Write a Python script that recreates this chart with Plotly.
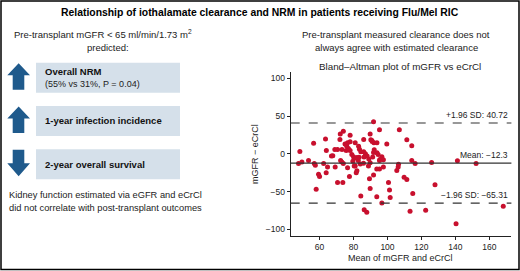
import plotly.graph_objects as go

W, H = 520, 271

# ---------------- data ----------------
mean_x = [47.6, 49.6, 48.4, 53.5, 56.5, 56.9, 57.5, 58.0, 59.4, 60.0,
          62.4, 63.5, 64.0, 63.9, 64.7, 67.0, 67.8, 69.0, 70.6, 69.2,
          70.6, 72.0, 72.2, 74.0, 73.2, 72.4, 73.1, 73.7, 74.0, 75.0,
          76.0, 76.5, 77.0, 75.7, 76.5, 77.6, 78.0, 78.0, 78.0, 79.0,
          80.0, 79.6, 80.4, 81.0, 80.5, 81.6, 82.0, 83.0, 83.5, 84.3,
          84.0, 82.8, 84.3, 85.9, 86.0, 86.0, 87.0, 86.3, 87.8, 88.0,
          88.8, 89.0, 89.8, 89.4, 89.8, 89.8, 90.8, 92.0, 93.8, 91.8,
          91.8, 93.7, 93.7, 95.3, 95.3, 93.8, 94.5, 95.5, 96.7, 96.7,
          97.6, 97.6, 99.6, 100.6, 101.2, 101.6, 105.5, 106.3, 106.5, 107.0,
          109.8, 111.4, 111.4, 113.3, 114.3, 114.3, 114.9, 116.3, 122.5, 126.0,
          128.0, 140.4, 141.2, 152.2, 168.2, 82.0, 83.3, 86.2, 91.3, 91.8,
          92.2, 95.3, 91.0, 90.2, 81.0]
diff_y = [-13.0, -11.0, 3.0, -9.0, 14.0, -13.0, -15.0, -47.0, -27.0, -30.0,
          -13.0, 19.7, 4.3, -25.0, -17.6, -3.0, -2.5, 5.7, 5.7, -17.6,
          -38.0, 19.0, 26.3, 30.0, 5.7, -9.0, -11.0, -38.0, -13.0, 13.0,
          10.0, 14.5, 7.0, 4.4, -18.6, -30.0, 15.8, 24.6, 4.3, -1.0,
          -4.0, -10.0, -16.2, 14.5, -6.0, -25.0, -22.5, 10.0, 6.0, 2.6,
          -13.5, -9.0, -56.0, -12.6, 18.8, 2.6, 0.0, -74.0, -77.5, -3.0,
          -16.2, -7.0, -11.8, -33.0, -46.0, 26.3, 17.5, 14.5, 14.5, 42.5,
          -28.0, -56.8, -20.0, -20.0, 32.0, 1.3, -1.0, -7.5, -4.0, -65.0,
          -17.6, -8.0, 13.0, -38.0, -48.0, -58.0, -22.0, -17.6, -14.0, 32.0,
          -31.0, -34.0, 18.6, -76.0, 10.6, -9.0, -52.7, -13.0, -74.8, -11.5,
          -41.0, -92.8, -9.3, -13.0, -69.4, -5.0, -4.5, -4.4, -4.4, 1.8,
          5.3, -8.8, 16.4, 18.6, -16.0]
mean_diff = -12.3
upper_loa = 40.72
lower_loa = -65.31
x_ticks = [60, 80, 100, 120, 140, 160]
y_ticks = [100, 50, 0, -50, -100]
y_tick_labels = ["100", "50", "0", "\u221250", "\u2212100"]

loa_labels = ["+1.96 SD: 40.72", "Mean: \u221212.3", "\u22121.96 SD: \u221265.31"]
outcome_titles = ["Overall NRM", "1-year infection incidence", "2-year overall survival"]
outcome_detail = "(55% vs 31%, P = 0.04)"
outcome_direction = ["up", "up", "down"]

# ---------------- helpers ----------------
def px(x):
    return x / W


def py(y):
    return 1 - y / H


SANS = "Liberation Sans, Arial, Helvetica, sans-serif"
NARROW = "Liberation Sans Narrow, Arial Narrow, Liberation Sans, sans-serif"
BOX_COL = "#d5e0ea"
ARROW_COL = "#1f5a8c"
PT_COL = "#c8102e"

fig = go.Figure()
fig.add_trace(go.Scatter(
    x=mean_x, y=diff_y, mode="markers",
    marker=dict(color=PT_COL, size=5, line=dict(width=0)),
    hoverinfo="skip", showlegend=False))

shapes = []
annotations = []

# outer border
shapes.append(dict(type="rect", xref="paper", yref="paper",
                   x0=px(1), x1=px(519), y0=py(269.5), y1=py(1),
                   line=dict(color="black", width=1.5), fillcolor="rgba(0,0,0,0)"))

# boxes + arrows
box_tops = [62.7, 106, 149.3]
for i, top in enumerate(box_tops):
    bot = top + 30
    shapes.append(dict(type="rect", xref="paper", yref="paper",
                       x0=px(36), x1=px(180), y0=py(bot), y1=py(top),
                       line=dict(width=0), fillcolor=BOX_COL, layer="below"))
    a0, a1 = top + 0.5, bot - 3
    hl, hr, sl, sr, cx = 7.3, 30, 12.7, 24.3, 18.65
    if outcome_direction[i] == "up":
        hb = a0 + 12
        pts = [(hl, hb), (cx, a0), (hr, hb), (sr, hb), (sr, a1), (sl, a1), (sl, hb)]
    else:
        hb = a1 - 13
        pts = [(sl, a0), (sr, a0), (sr, hb), (hr, hb), (cx, a1), (hl, hb), (sl, hb)]
    path = "M " + " L ".join(f"{px(x):.5f},{py(y):.5f}" for x, y in pts) + " Z"
    shapes.append(dict(type="path", xref="paper", yref="paper", path=path,
                       fillcolor=ARROW_COL, line=dict(width=0)))

# box texts
annotations.append(dict(text="<b>" + outcome_titles[0] + "</b>", x=px(42.5), y=py(71),
                        xanchor="left", yanchor="middle", font=dict(size=9.5, family=SANS, color="#111")))
annotations.append(dict(text=outcome_detail, x=px(42.5), y=py(84),
                        xanchor="left", yanchor="middle", font=dict(size=9, family=SANS, color="#222")))
annotations.append(dict(text="<b>" + outcome_titles[1] + "</b>", x=px(42.5), y=py(121),
                        xanchor="left", yanchor="middle", font=dict(size=9.5, family=SANS, color="#111")))
annotations.append(dict(text="<b>" + outcome_titles[2] + "</b>", x=px(42.5), y=py(164),
                        xanchor="left", yanchor="middle", font=dict(size=9.5, family=SANS, color="#111")))

# headings
annotations.append(dict(text="<b>Relationship of iothalamate clearance and NRM in patients receiving Flu/Mel RIC</b>",
                        x=px(260), y=py(12.5), xanchor="center", yanchor="middle",
                        font=dict(size=10.4, family=SANS, color="#000")))
annotations.append(dict(text="Pre-transplant mGFR < 65 ml/min/1.73 m<sup>2</sup>",
                        x=px(103), y=py(34.5), xanchor="center", yanchor="middle",
                        font=dict(size=9.5, family=SANS, color="#222")))
annotations.append(dict(text="predicted:", x=px(108), y=py(47.5), xanchor="center", yanchor="middle",
                        font=dict(size=9.5, family=SANS, color="#222")))
annotations.append(dict(text="Pre-transplant measured clearance does not", x=px(396), y=py(34.5),
                        xanchor="center", yanchor="middle", font=dict(size=9.5, family=SANS, color="#222")))
annotations.append(dict(text="always agree with estimated clearance", x=px(396), y=py(47.5),
                        xanchor="center", yanchor="middle", font=dict(size=9.5, family=SANS, color="#222")))
annotations.append(dict(text="Kidney function estimated via eGFR and eCrCl", x=px(7), y=py(195),
                        xanchor="left", yanchor="middle", font=dict(size=9.3, family=SANS, color="#222")))
annotations.append(dict(text="did not correlate with post-transplant outcomes", x=px(7), y=py(208),
                        xanchor="left", yanchor="middle", font=dict(size=9.3, family=SANS, color="#222")))

# plot title and axis titles
annotations.append(dict(text="Bland\u2013Altman plot of mGFR vs eCrCl", x=px(400), y=py(66),
                        xanchor="center", yanchor="middle", font=dict(size=9.8, family=SANS, color="#222")))
annotations.append(dict(text="Mean of mGFR and eCrCl", x=px(400), y=py(258),
                        xanchor="center", yanchor="middle", font=dict(size=9, family=NARROW, color="#222")))
annotations.append(dict(text="mGFR \u2212 eCrCl", x=px(255), y=py(154), textangle=-90,
                        xanchor="center", yanchor="middle", font=dict(size=9, family=NARROW, color="#222")))

# limits of agreement lines
for val, dash, lab in [(upper_loa, "dash", loa_labels[0]),
                       (mean_diff, "solid", loa_labels[1]),
                       (lower_loa, "dash", loa_labels[2])]:
    shapes.append(dict(type="line", xref="x domain", yref="y", x0=0, x1=1, y0=val, y1=val,
                       line=dict(color="#333", width=1.1, dash=dash)))
    annotations.append(dict(text=lab, xref="paper", yref="y", x=px(510), y=val,
                            xanchor="right", yanchor="bottom", yshift=1,
                            font=dict(size=8.5, family=SANS, color="#222")))

for a in annotations:
    a.setdefault("xref", "paper")
    a.setdefault("yref", "paper")
    a["showarrow"] = False

fig.update_layout(
    width=W, height=H, margin=dict(l=0, r=0, t=0, b=0),
    paper_bgcolor="white", plot_bgcolor="white",
    shapes=shapes, annotations=annotations, showlegend=False,
    xaxis=dict(domain=[px(290.7), px(511.4)], range=[43, 173], tickvals=x_ticks,
               showgrid=False, zeroline=False, showline=True, linecolor="#222", linewidth=1,
               ticks="outside", ticklen=3, tickcolor="#222",
               tickfont=dict(size=8.5, family=NARROW, color="#222")),
    yaxis=dict(domain=[py(236.1), py(71.5)], range=[-109, 109], tickvals=y_ticks,
               ticktext=y_tick_labels,
               showgrid=False, zeroline=False, showline=True, linecolor="#222", linewidth=1,
               ticks="outside", ticklen=3, tickcolor="#222",
               tickfont=dict(size=8.5, family=NARROW, color="#222")),
)

fig.write_html("out.html", config={"displayModeBar": False},
               post_script="document.body.style.margin='0';document.body.style.overflow='hidden';")
